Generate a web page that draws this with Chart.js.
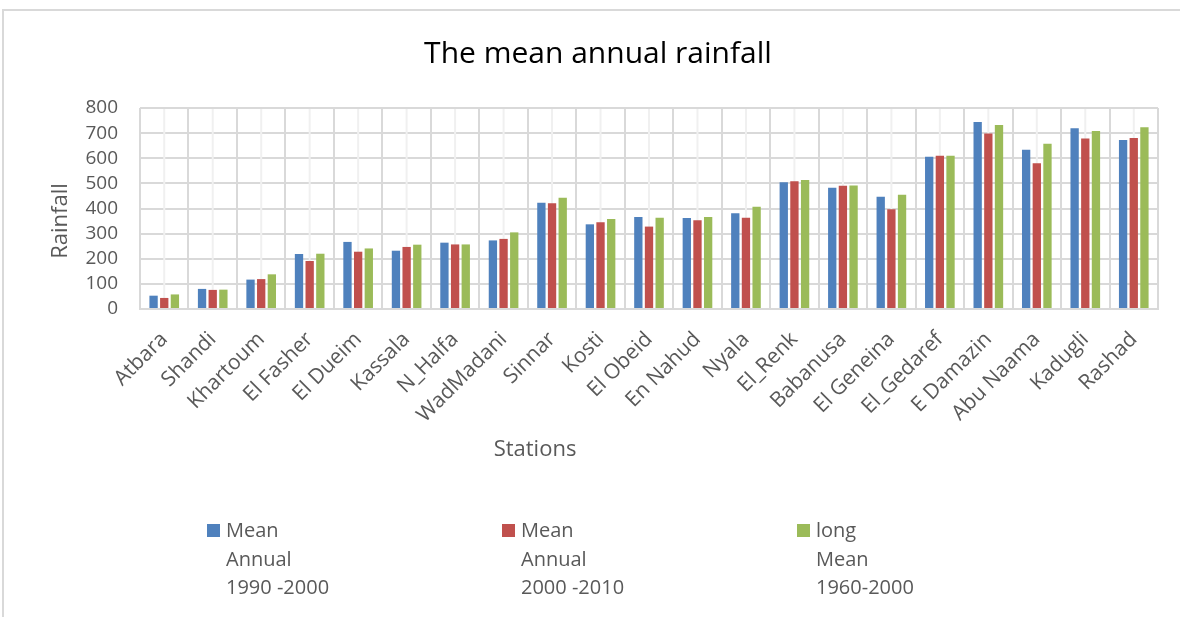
<!DOCTYPE html>
<html lang="en">
<head>
    <meta charset="UTF-8">
    <title>The mean annual rainfall</title>
    <script src="https://cdn.jsdelivr.net/npm/chart.js@4.4.1/dist/chart.umd.min.js"></script>
    <style>
        body { margin: 0; background: #fff; }
        #wrap { position: relative; width: 1180px; height: 617px; }
    </style>
</head>
<body>
    <div id="wrap"><canvas id="rainChart" width="1180" height="617"></canvas></div>

    <script>
        // data
        const stations = ["Atbara", "Shandi", "Khartoum", "El Fasher", "El Dueim", "Kassala", "N_Halfa",
            "WadMadani", "Sinnar", "Kosti", "El Obeid", "En Nahud", "Nyala", "El_Renk", "Babanusa",
            "El Geneina", "El_Gedaref", "E Damazin", "Abu Naama", "Kadugli", "Rashad"];
        const mean1990to2000 = [53, 80, 117, 219, 267, 232, 264, 273, 423, 337, 366, 362, 381, 504, 483, 447, 606, 744, 634, 719, 673];
        const mean2000to2010 = [44, 76, 119, 191, 228, 247, 257, 279, 421, 345, 328, 353, 363, 508, 491, 397, 610, 699, 580, 679, 681];
        const longMean1960to2000 = [58, 77, 138, 220, 241, 256, 257, 305, 443, 358, 363, 366, 407, 513, 492, 455, 610, 732, 658, 708, 723];
        const legendLines = [
            ["Mean", "Annual", "1990 -2000"],
            ["Mean", "Annual", "2000 -2010"],
            ["long", "Mean", "1960-2000"]
        ];
        const yTicks = [0, 100, 200, 300, 400, 500, 600, 700, 800];

        const FONT = "'Open Sans', sans-serif";
        const GREY = "#595959";
        const GRID = "#d9d9d9";
        const colors = ["#4f81bd", "#c0504d", "#9bbb59"];

        const decorations = {
            id: "decorations",
            beforeDraw(chart) {
                const ctx = chart.ctx;
                ctx.save();
                ctx.fillStyle = "#fff";
                ctx.fillRect(0, 0, chart.width, chart.height);
                ctx.strokeStyle = GRID;
                ctx.lineWidth = 2;
                ctx.beginPath();
                ctx.moveTo(3, chart.height + 5);
                ctx.lineTo(3, 10);
                ctx.lineTo(chart.width + 5, 10);
                ctx.stroke();
                ctx.restore();
            },
            beforeDatasetsDraw(chart) {
                // light lines through the middle of each category
                const ctx = chart.ctx;
                const x = chart.scales.x;
                const area = chart.chartArea;
                ctx.save();
                ctx.strokeStyle = "#f0f0f0";
                ctx.lineWidth = 2;
                stations.forEach((s, i) => {
                    const px = x.getPixelForValue(i);
                    ctx.beginPath();
                    ctx.moveTo(px, area.top + 1);
                    ctx.lineTo(px, area.bottom - 1);
                    ctx.stroke();
                });
                ctx.restore();
            },
            afterDraw(chart) {
                const ctx = chart.ctx;
                ctx.save();
                ctx.textBaseline = "alphabetic";

                ctx.fillStyle = "#000";
                ctx.font = "30px " + FONT;
                ctx.textAlign = "center";
                ctx.fillText("The mean annual rainfall", 598, 63);

                ctx.fillStyle = GREY;
                ctx.font = "22px " + FONT;
                ctx.fillText("Stations", 535, 456);

                ctx.save();
                ctx.translate(67, 221);
                ctx.rotate(-Math.PI / 2);
                ctx.fillText("Rainfall", 0, 0);
                ctx.restore();

                // legend
                ctx.textAlign = "left";
                ctx.font = "20px " + FONT;
                const legendX = [207, 502, 797];
                legendLines.forEach((lines, i) => {
                    ctx.fillStyle = colors[i];
                    ctx.fillRect(legendX[i], 524, 13, 13);
                    ctx.fillStyle = GREY;
                    lines.forEach((t, j) => {
                        ctx.fillText(t, legendX[i] + 19, 537 + j * 28.5);
                    });
                });
                ctx.restore();
            }
        };

        const seriesValues = [mean1990to2000, mean2000to2010, longMean1960to2000];

        new Chart(document.getElementById("rainChart"), {
            type: "bar",
            data: {
                labels: stations,
                datasets: seriesValues.map((vals, i) => ({
                    label: legendLines[i].join(" "),
                    data: vals,
                    backgroundColor: colors[i],
                    borderWidth: 0,
                    categoryPercentage: 0.66,
                    barPercentage: 0.78
                }))
            },
            options: {
                responsive: false,
                animation: false,
                devicePixelRatio: 1,
                layout: { padding: { top: 108, right: 22, left: 0, bottom: 0 } },
                plugins: {
                    legend: { display: false },
                    title: { display: false },
                    tooltip: { enabled: false }
                },
                scales: {
                    x: {
                        afterFit: s => { s.height = 308; },
                        grid: { color: GRID, lineWidth: 2, drawTicks: false, offset: true },
                        border: { color: GRID, width: 2 },
                        ticks: {
                            color: GREY,
                            font: { family: FONT, size: 21 },
                            minRotation: 45,
                            maxRotation: 45,
                            autoSkip: false,
                            padding: 18
                        }
                    },
                    y: {
                        min: 0,
                        max: 800,
                        afterFit: s => { s.width = 140; },
                        afterBuildTicks: s => { s.ticks = yTicks.map(v => ({ value: v })); },
                        grid: { color: GRID, lineWidth: 2, drawTicks: false },
                        border: { display: false },
                        ticks: {
                            color: GREY,
                            font: { family: FONT, size: 19 },
                            padding: 22,
                            autoSkip: false
                        }
                    }
                }
            },
            plugins: [decorations]
        });
    </script>
</body>
</html>
